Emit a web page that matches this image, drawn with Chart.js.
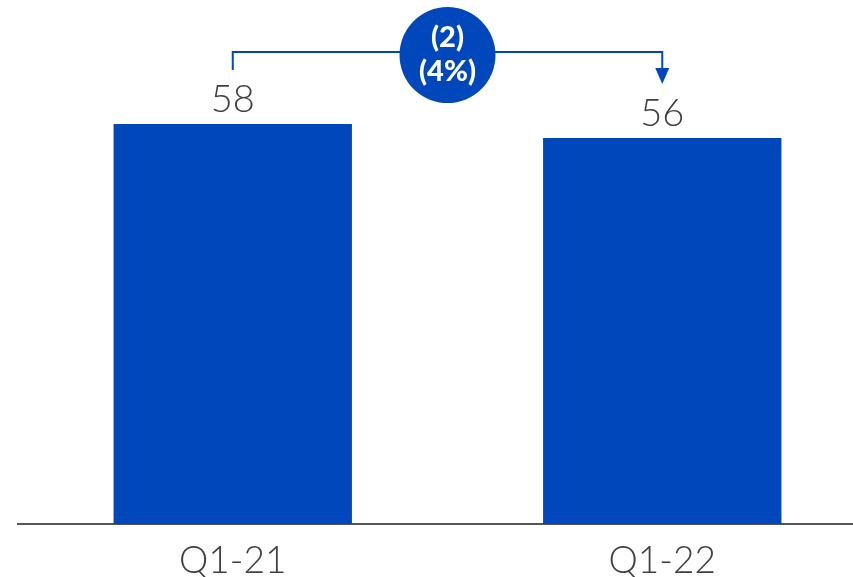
<!DOCTYPE html>
<html>
<head>
<meta charset="utf-8">
<script src="https://cdn.jsdelivr.net/npm/chart.js@4/dist/chart.umd.min.js"></script>
<style>
html,body{margin:0;padding:0;background:#fff;overflow:hidden;}
#wrap{width:877px;height:577px;}
</style>
</head>
<body>
<div id="wrap"><canvas id="c" width="877" height="577"></canvas></div>
<script>
const categories = ['Q1-21', 'Q1-22'];
const values = [58, 56];
const changeLines = ['(2)', '(4%)'];

const BLUE = '#0047BB';
const TEXT = '#404040';
const FONT = 'Lato, "Noto Sans", sans-serif';

const labelPlugin = {
  id: 'valueLabels',
  afterDatasetsDraw(chart) {
    const ctx = chart.ctx;
    const meta = chart.getDatasetMeta(0);
    ctx.save();
    ctx.fillStyle = TEXT;
    ctx.font = '300 38px ' + FONT;
    ctx.textAlign = 'center';
    ctx.textBaseline = 'alphabetic';
    meta.data.forEach((bar, i) => {
      ctx.fillText(String(values[i]), bar.x, bar.y - 12);
    });

    // bracket with arrow
    const b0 = meta.data[0], b1 = meta.data[1];
    const lineY = b0.y - 72;
    ctx.strokeStyle = BLUE;
    ctx.lineWidth = 2;
    ctx.beginPath();
    ctx.moveTo(b0.x, b0.y - 54);
    ctx.lineTo(b0.x, lineY);
    ctx.lineTo(b1.x, lineY);
    ctx.lineTo(b1.x, b1.y - 68);
    ctx.stroke();
    ctx.fillStyle = BLUE;
    ctx.beginPath();
    ctx.moveTo(b1.x - 7, b1.y - 70);
    ctx.lineTo(b1.x + 7, b1.y - 70);
    ctx.lineTo(b1.x, b1.y - 54);
    ctx.closePath();
    ctx.fill();

    // bubble
    const cx = (b0.x + b1.x) / 2, cy = lineY + 3;
    ctx.beginPath();
    ctx.arc(cx, cy, 48, 0, Math.PI * 2);
    ctx.fillStyle = BLUE;
    ctx.fill();
    ctx.fillStyle = '#fff';
    ctx.font = '900 29px ' + FONT;
    ctx.textBaseline = 'middle';
    ctx.fillText(changeLines[0], cx, cy - 17);
    ctx.fillText(changeLines[1], cx, cy + 17);
    ctx.restore();
  }
};

new Chart(document.getElementById('c'), {
  type: 'bar',
  data: {
    labels: categories,
    datasets: [{
      data: values,
      backgroundColor: BLUE,
      borderWidth: 0,
      barPercentage: 0.555,
      categoryPercentage: 1.0
    }]
  },
  options: {
    responsive: false,
    animation: false,
    layout: { padding: { left: 18, right: 0, top: 0, bottom: 0 } },
    plugins: { legend: { display: false }, tooltip: { enabled: false } },
    scales: {
      x: {
        grid: { display: false, drawTicks: false },
        border: { display: true, color: '#555', width: 2 },
        ticks: { color: TEXT, font: { family: FONT, size: 37, weight: '300' }, padding: 15 },
        afterFit(scale) { scale.height = 53; }
      },
      y: {
        display: false,
        min: 0,
        max: 76
      }
    }
  },
  plugins: [labelPlugin]
});
</script>
</body>
</html>
